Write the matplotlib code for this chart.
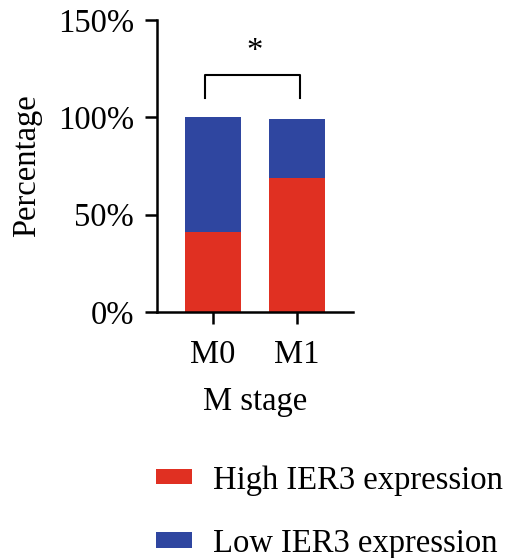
import numpy as np
import matplotlib
matplotlib.use('Agg')
import matplotlib.pyplot as plt

# 数据
stages = ['M0', 'M1']
high_pct = [41, 69]
low_pct = [59, 30]
series_labels = ['High IER3 expression', 'Low IER3 expression']
yticks = [0, 50, 100, 150]
sig_text = '*'

red = '#E03022'
blue = '#2F46A0'
fs = 23.5

plt.rcParams['font.family'] = ['Liberation Serif', 'DejaVu Serif']
plt.rcParams['font.size'] = fs

fig = plt.figure(figsize=(5.05, 5.58), dpi=100)
ax = fig.add_axes([0.311, 0.441, 0.388, 0.523])

x = np.arange(len(stages))
b1 = ax.bar(x, high_pct, width=0.667, color=red, label=series_labels[0])
b2 = ax.bar(x, low_pct, width=0.667, bottom=high_pct, color=blue, label=series_labels[1])

ax.set_xlim(-0.667, 1.667)
ax.set_ylim(0, 150)
ax.set_yticks(yticks)
ax.set_yticklabels([f'{v}%' for v in yticks])
ax.set_xticks(x)
ax.set_xticklabels(stages)

for s in ['top', 'right']:
    ax.spines[s].set_visible(False)
for s in ['left', 'bottom']:
    ax.spines[s].set_linewidth(1.8)
ax.tick_params(width=1.8, length=8.5, labelsize=fs)
ax.tick_params(axis='y', pad=8)
ax.tick_params(axis='x', pad=11)

ax.set_ylabel('Percentage', fontsize=fs, labelpad=11.5)
ax.set_xlabel('M stage', fontsize=fs, labelpad=12)

# 显著性括号
ax.plot([-0.09, -0.09, 1.04, 1.04], [110, 122, 122, 110], color='black', lw=1.5, clip_on=False)
ax.text(0.5, 126, sig_text, ha='center', va='bottom', fontsize=fs)

fig.legend(handles=[b1, b2], loc='upper left', bbox_to_anchor=(0.283, 0.19),
           frameon=False, fontsize=fs, handlelength=1.1, handleheight=0.34,
           handletextpad=0.65, labelspacing=1.0, borderaxespad=0)

fig.savefig('out.png', dpi=100)
